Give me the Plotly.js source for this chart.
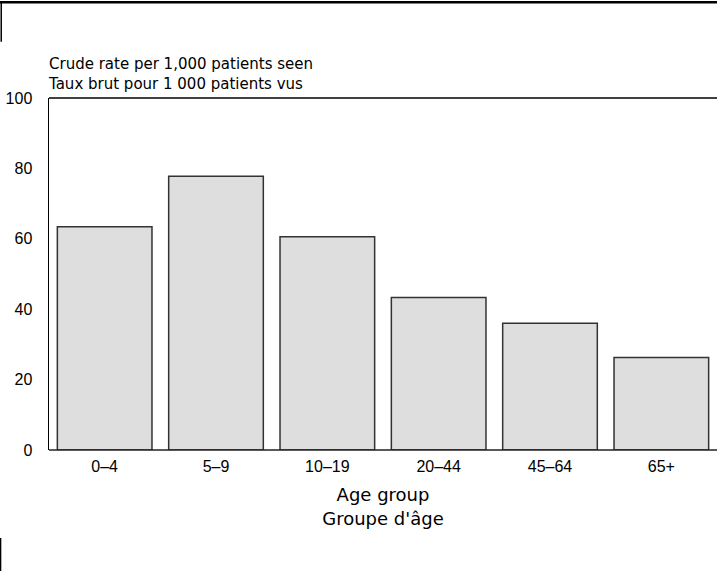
<!DOCTYPE html>
<html>
<head>
<meta charset="utf-8">
<script src="https://cdn.plot.ly/plotly-3.0.1.min.js"></script>
<style>html,body{margin:0;padding:0;background:#fff;overflow:hidden;}#chart{width:719px;height:571px;}</style>
</head>
<body>
<div id="chart"></div>
<script>
const ageGroups = ["0–4", "5–9", "10–19", "20–44", "45–64", "65+"];
const crudeRates = [63.4, 77.8, 60.6, 43.3, 36.0, 26.3];
const yTicks = [0, 20, 40, 60, 80, 100];

const TICKFONT = "Liberation Sans, Arial, sans-serif";
const TITLEFONT = "DejaVu Sans, sans-serif";

const trace = {
  type: "bar",
  x: ageGroups,
  y: crudeRates,
  marker: { color: "#dedede", line: { color: "#333333", width: 1.5 } },
  hoverinfo: "x+y"
};

const layout = {
  width: 719,
  height: 571,
  margin: { l: 49, r: 2, t: 98, b: 121 },
  paper_bgcolor: "#ffffff",
  plot_bgcolor: "#ffffff",
  font: { family: TICKFONT, size: 16, color: "#000" },
  bargap: 0.15,
  showlegend: false,
  xaxis: {
    type: "category",
    showline: false,
    showgrid: false, zeroline: false, ticks: "", ticklabelstandoff: 5,
    tickfont: { family: TICKFONT, size: 16, color: "#000" },
    title: { text: "Age group<br>Groupe d'âge", font: { family: TITLEFONT, size: 18, color: "#000" }, standoff: 14 }
  },
  yaxis: {
    range: [0, 100],
    tickvals: yTicks,
    ticktext: yTicks.map(String),
    showline: true, linecolor: "#000", linewidth: 1.5,
    showgrid: false, zeroline: false, ticks: "", ticklabelstandoff: 12,
    tickfont: { family: TICKFONT, size: 16, color: "#000" }
  },
  annotations: [{
    xref: "paper", yref: "paper", x: 0, y: 1, xanchor: "left", yanchor: "bottom",
    xshift: -3, yshift: 3, align: "left", showarrow: false,
    text: "Crude rate per 1,000 patients seen<br>Taux brut pour 1 000 patients vus",
    font: { family: TITLEFONT, size: 15, color: "#000" }
  }],
  shapes: [
    { type: "line", xref: "paper", yref: "paper", x0: 0, x1: 1, y0: 1, y1: 1, line: { color: "#000", width: 1.5 } },
    { type: "line", xref: "paper", yref: "paper", x0: 0, x1: 1, y0: 0, y1: 0, line: { color: "#222", width: 1.5 } },
    { type: "line", xref: "paper", yref: "paper", x0: -0.08, x1: 1, y0: 1.272, y1: 1.272, line: { color: "#000", width: 2.5 } },
    { type: "line", xref: "paper", yref: "paper", x0: -0.0715, x1: -0.0715, y0: 1.275, y1: 1.16, line: { color: "#000", width: 1.5 } },
    { type: "line", xref: "paper", yref: "paper", x0: -0.0725, x1: -0.0725, y0: -0.25, y1: -0.35, line: { color: "#000", width: 1.5 } }
  ]
};

Plotly.newPlot("chart", [trace], layout, { displayModeBar: false, staticPlot: true });
</script>
</body>
</html>
